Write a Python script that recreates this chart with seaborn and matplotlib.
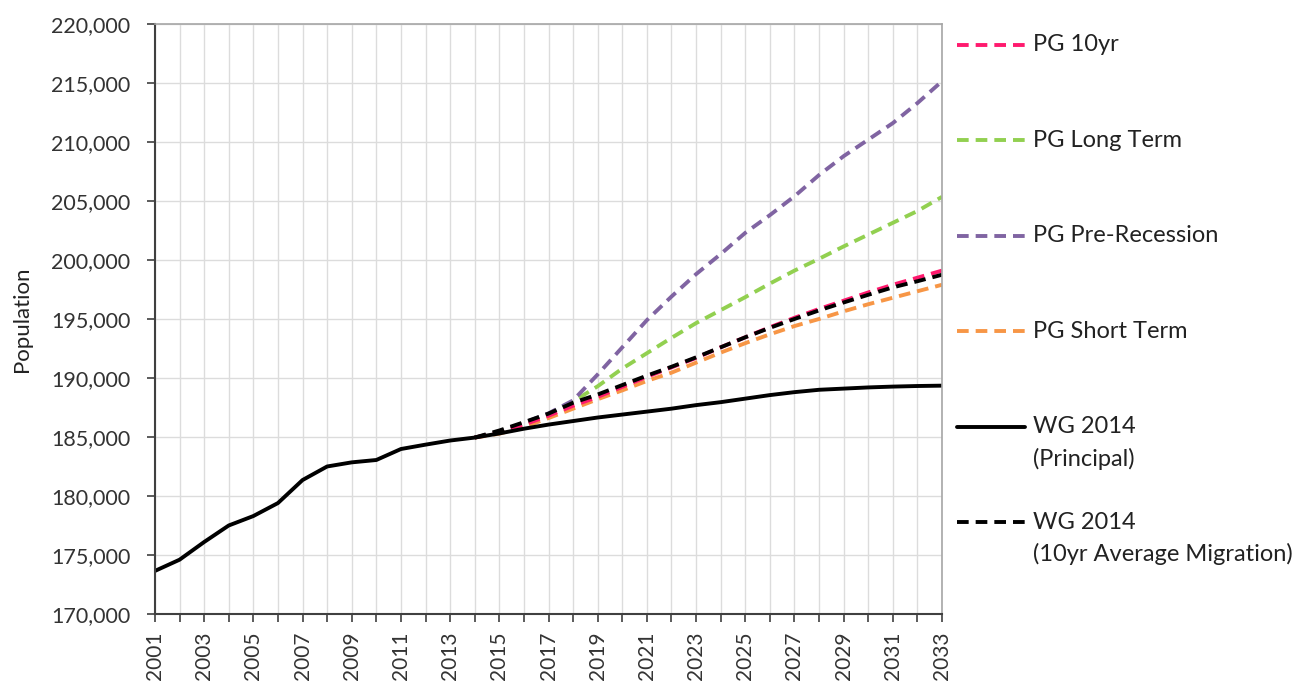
"""
Population projections, 2001-2033
"""

import pandas as pd
import matplotlib
matplotlib.use("Agg")
import matplotlib.pyplot as plt
from matplotlib.ticker import MultipleLocator, StrMethodFormatter
import seaborn as sns

years = list(range(2001, 2034))
proj_years = list(range(2014, 2034))
label_years = list(range(2001, 2034, 2))

wg_principal = [173650, 174600, 176100, 177500, 178300, 179400, 181350, 182500,
                182850, 183050, 183980, 184350, 184700, 184950, 185300, 185700,
                186050, 186350, 186650, 186900, 187150, 187400, 187700, 187950,
                188250, 188550, 188800, 189000, 189100, 189200, 189270, 189320,
                189350]

pg_10yr = [184950, 185400, 186050, 186800, 187650, 188400, 189250, 190100, 190900,
           191700, 192600, 193450, 194300, 195100, 195850, 196550, 197250, 197900,
           198500, 199100]
pg_long = [184950, 185450, 186150, 186950, 188000, 189300, 190800, 192100, 193400,
           194650, 195750, 196850, 198000, 199100, 200100, 201150, 202150, 203150,
           204150, 205350]
pg_pre_rec = [184950, 185450, 186200, 187000, 188100, 190300, 192600, 194900, 196900,
              198800, 200500, 202300, 203800, 205400, 207200, 208800, 210200, 211600,
              213300, 215150]
pg_short = [184950, 185280, 185850, 186600, 187400, 188200, 188950, 189750, 190450,
            191300, 192150, 192950, 193700, 194400, 195000, 195650, 196250, 196800,
            197350, 197900]
wg_10yr_mig = [184950, 185550, 186250, 186980, 187900, 188600, 189400, 190200, 190950,
               191750, 192600, 193450, 194250, 195000, 195730, 196400, 197050, 197680,
               198200, 198750]

labels = ['PG 10yr', 'PG Long Term', 'PG Pre-Recession', 'PG Short Term',
          'WG 2014\n(Principal)', 'WG 2014\n(10yr Average Migration)']
colors = ['#ff1a6e', '#92d050', '#8064a2', '#f79646', '#000000', '#000000']
dashed = [True, True, True, True, False, True]

hist = pd.DataFrame({'Year': years, 'Population': wg_principal})
proj = {
    'PG 10yr': pg_10yr,
    'PG Long Term': pg_long,
    'PG Pre-Recession': pg_pre_rec,
    'PG Short Term': pg_short,
    'WG 2014\n(10yr Average Migration)': wg_10yr_mig,
}

sns.set_style("white")
plt.rcParams['font.family'] = ['Lato', 'DejaVu Sans']

fig = plt.figure(figsize=(13.01, 6.81), dpi=100)
ax = fig.add_axes([0.1191, 0.0984, 0.6050, 0.8664])

lw = 2.8
dash_pat = (3, 1.8)

# projections first, the principal line on top
draw_order = ['PG Short Term', 'PG Long Term', 'PG Pre-Recession', 'PG 10yr',
              'WG 2014\n(10yr Average Migration)']
for name in draw_order:
    df = pd.DataFrame({'Year': proj_years, 'Population': proj[name]})
    c = colors[labels.index(name)]
    sns.lineplot(data=df, x='Year', y='Population', ax=ax, color=c,
                 linewidth=lw, legend=False)
    ax.lines[-1].set_dashes(dash_pat)

sns.lineplot(data=hist, x='Year', y='Population', ax=ax, color='black',
             linewidth=lw, legend=False)

ax.set_xlim(2001, 2033)
ax.set_ylim(170000, 220000)
ax.set_xticks(label_years)
ax.set_xticks(years, minor=True)
ax.yaxis.set_major_locator(MultipleLocator(5000))
ax.yaxis.set_major_formatter(StrMethodFormatter('{x:,.0f}'))
ax.grid(True, which='both', axis='x', color='#dcdcdc', lw=1)
ax.grid(True, which='major', axis='y', color='#dcdcdc', lw=1)
ax.set_axisbelow(True)

ax.tick_params(axis='x', which='both', direction='out', length=5.5, width=1.2,
               color='#404040', bottom=True)
ax.tick_params(axis='x', which='major', labelsize=15, labelcolor='#333333',
               labelrotation=90, pad=7)
ax.tick_params(axis='y', direction='out', length=5.8, width=1.2, color='#404040',
               labelsize=15.5, labelcolor='#333333', left=True, pad=12)
ax.set_xlabel('')
ax.set_ylabel('Population', fontsize=16, color='#222222')
ax.yaxis.set_label_coords(-0.156, 0.5)

for side in ['top', 'right']:
    ax.spines[side].set_color('#a6a6a6')
    ax.spines[side].set_linewidth(1.2)
for side in ['left', 'bottom']:
    ax.spines[side].set_color('#404040')
    ax.spines[side].set_linewidth(1.5)

# legend at the right, one row per series
for i, (lab, c, d) in enumerate(zip(labels, colors, dashed)):
    y = 0.9644 - i * 0.1617
    ln, = ax.plot([1.019, 1.1055], [y, y], transform=ax.transAxes, color=c,
                  lw=lw, clip_on=False)
    if d:
        ln.set_dashes(dash_pat)
    for j, part in enumerate(lab.split('\n')):
        ax.text(1.1156, y - j * 0.054, part, transform=ax.transAxes, va='center',
                ha='left', fontsize=17, color='#222222')

fig.savefig('out.png', dpi=100)
